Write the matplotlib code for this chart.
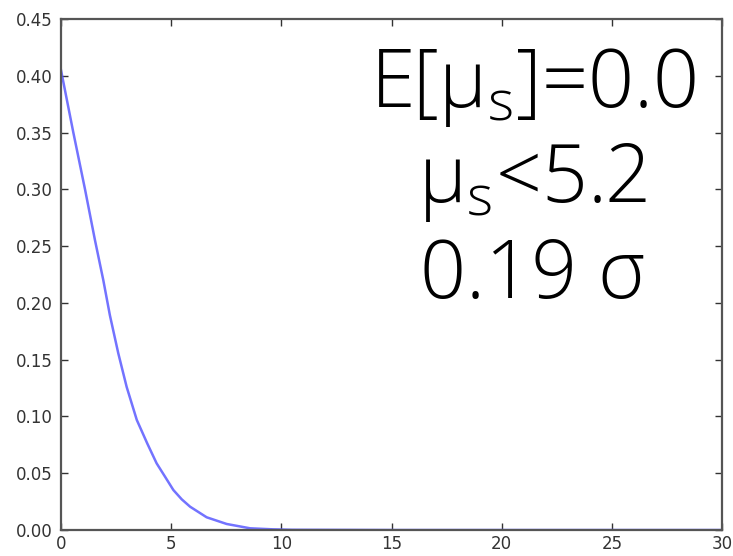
import matplotlib
matplotlib.use("Agg")
import matplotlib.pyplot as plt

# data
x_vals = [0, 0.56, 1.09, 1.54, 1.92, 2.22, 2.60, 2.98, 3.44, 3.92, 4.34, 4.72, 5.10, 5.48,
          5.86, 6.61, 7.52, 8.58, 9.6, 10.5, 15, 20, 25, 30]
y_vals = [0.405, 0.35, 0.30, 0.2554, 0.220, 0.189, 0.1556, 0.126, 0.0969, 0.076, 0.0587, 0.047,
          0.0352, 0.027, 0.0205, 0.0112, 0.0053, 0.0015, 0.0006, 0.0002, 0.0, 0.0, 0.0, 0.0]
xticks = [0, 5, 10, 15, 20, 25, 30]
yticks = [0.00, 0.05, 0.10, 0.15, 0.20, 0.25, 0.30, 0.35, 0.40, 0.45]
text_lines = ["E[μ$_\\mathregular{s}$]=0.0", "μ$_\\mathregular{s}$<5.2", "0.19 σ"]

plt.rcParams['mathtext.fontset'] = 'custom'
plt.rcParams['mathtext.rm'] = 'Open Sans:light'

fig = plt.figure(figsize=(7.33, 5.56), dpi=100)
ax = fig.add_axes([61/733, 1-530/556, (722-61)/733, (530-19)/556])
ax.plot(x_vals, y_vals, color='#5a5aff', lw=1.8, alpha=0.85)
ax.set_xlim(0, 30)
ax.set_ylim(0, 0.45)
ax.set_xticks(xticks)
ax.set_yticks(yticks)
ax.set_xticklabels([str(t) for t in xticks])
ax.set_yticklabels([f"{t:.2f}" for t in yticks])
ax.tick_params(direction='in', length=5, width=1, top=True, right=True,
               labelsize=12, colors='#333333')
ax.tick_params(axis='x', pad=3.5)
ax.tick_params(axis='y', pad=6)
for s in ax.spines.values():
    s.set_color('#555555')
    s.set_linewidth(1.6)

baselines = [107, 202, 298]
for line, b in zip(text_lines, baselines):
    fig.text(533/733, 1 - b/556, line, ha='center', va='baseline',
             fontsize=58, family='Open Sans', fontweight='light', color='black')

fig.savefig("out.png", dpi=100)
